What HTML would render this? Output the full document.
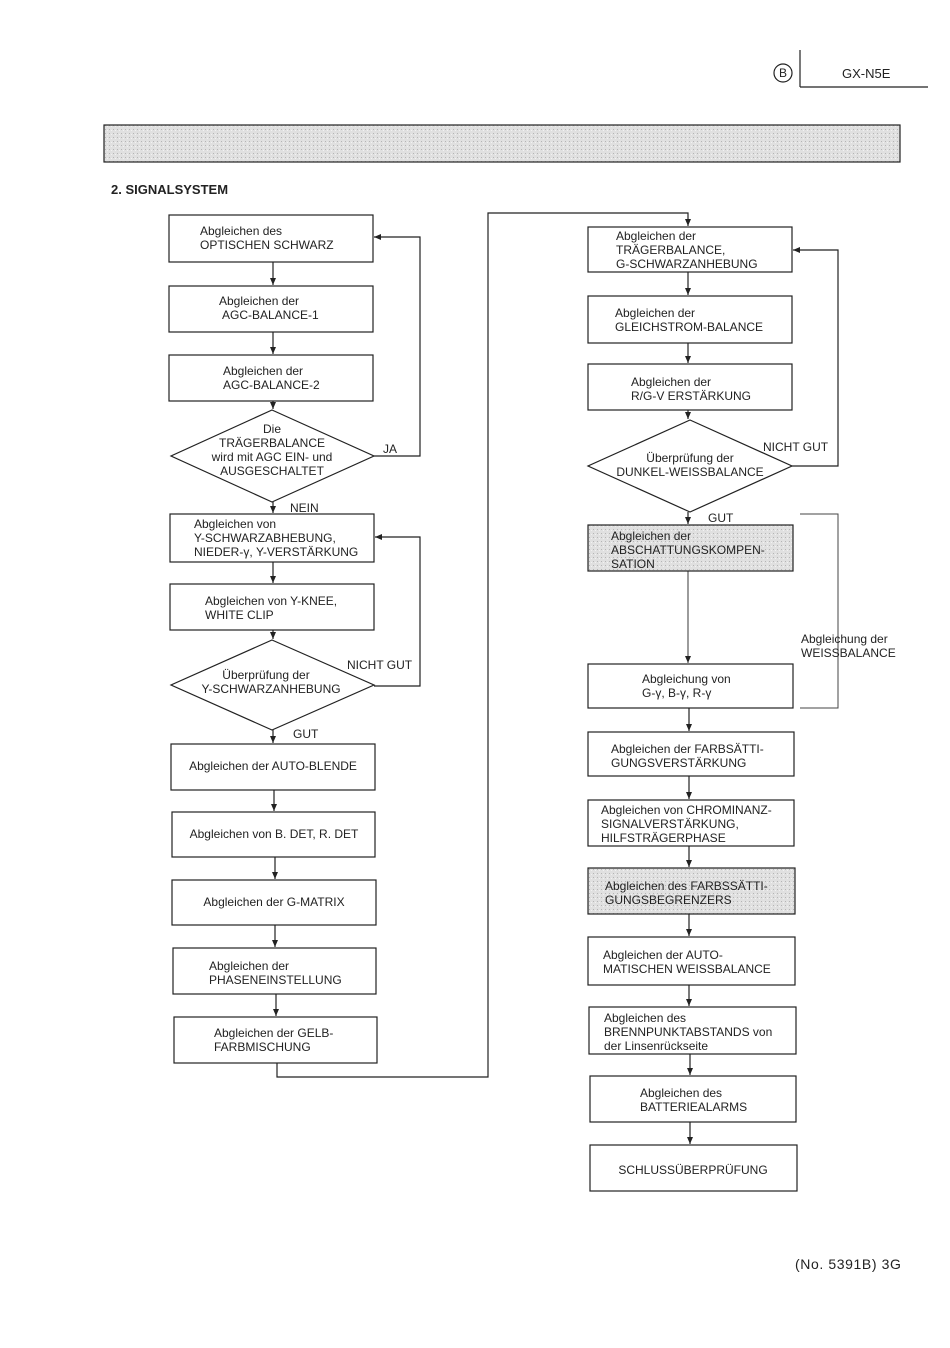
<!DOCTYPE html>
<html><head><meta charset="utf-8"><style>
body{margin:0;background:#fff}
svg text{font-family:"Liberation Sans",sans-serif;font-size:12px;fill:#222}
</style></head><body>
<svg width="950" height="1343" viewBox="0 0 950 1343" xmlns="http://www.w3.org/2000/svg">
<defs>
<pattern id="g" width="4" height="4" patternUnits="userSpaceOnUse"><rect width="4" height="4" fill="#e0e0e0"/><rect x="1" y="1" width="1" height="1" fill="#b5b5b5"/><rect x="3" y="2" width="1" height="1" fill="#f2f2f2"/></pattern>
<marker id="a" markerWidth="8" markerHeight="8" refX="7" refY="4" orient="auto" markerUnits="userSpaceOnUse"><path d="M0,1 L7,4 L0,7 Z" fill="#222"/></marker>
</defs>
<g stroke="#222" fill="none" stroke-width="1.2">
<circle cx="783" cy="73" r="9"/>
<line x1="800" y1="50" x2="800" y2="87"/><line x1="800" y1="87" x2="928" y2="87"/>
<rect x="104" y="125" width="796" height="37" fill="url(#g)"/>
<rect x="169" y="215" width="204" height="47"/>
<rect x="169" y="286" width="204" height="46"/>
<rect x="169" y="355" width="204" height="46"/>
<polygon points="272,410 374,456 272,502 171,456"/>
<rect x="170" y="514" width="204" height="48"/>
<rect x="170" y="584" width="204" height="46"/>
<polygon points="272,640 374,685 272,730 171,685"/>
<rect x="171" y="744" width="204" height="46"/>
<rect x="172" y="812" width="203" height="45"/>
<rect x="172" y="880" width="204" height="45"/>
<rect x="173" y="948" width="203" height="46"/>
<rect x="174" y="1017" width="203" height="46"/>
<line x1="273" y1="262" x2="273" y2="285" marker-end="url(#a)"/>
<line x1="273" y1="332" x2="273" y2="354" marker-end="url(#a)"/>
<line x1="273" y1="401" x2="273" y2="409" marker-end="url(#a)"/>
<line x1="273" y1="502" x2="273" y2="513" marker-end="url(#a)"/>
<line x1="273" y1="562" x2="273" y2="583" marker-end="url(#a)"/>
<line x1="273" y1="630" x2="273" y2="639" marker-end="url(#a)"/>
<line x1="273" y1="730" x2="273" y2="743" marker-end="url(#a)"/>
<line x1="274" y1="790" x2="274" y2="811" marker-end="url(#a)"/>
<line x1="275" y1="857" x2="275" y2="879" marker-end="url(#a)"/>
<line x1="275" y1="925" x2="275" y2="947" marker-end="url(#a)"/>
<line x1="276" y1="994" x2="276" y2="1016" marker-end="url(#a)"/>
<polyline points="374,456 420,456 420,237 374,237" marker-end="url(#a)"/>
<polyline points="374,686 420,686 420,537 375,537" marker-end="url(#a)"/>
<polyline points="277,1063 277,1077 488,1077 488,213 688,213 688,226" marker-end="url(#a)"/>
<rect x="588" y="227" width="204" height="45"/>
<rect x="588" y="296" width="204" height="47"/>
<rect x="588" y="364" width="204" height="46"/>
<polygon points="690,420 792,466 690,512 588,466"/>
<rect x="588" y="525" width="205" height="46" fill="url(#g)"/>
<rect x="588" y="664" width="205" height="44"/>
<rect x="588" y="732" width="206" height="44"/>
<rect x="588" y="800" width="206" height="46"/>
<rect x="588" y="868" width="207" height="46" fill="url(#g)"/>
<rect x="588" y="937" width="207" height="48"/>
<rect x="589" y="1007" width="207" height="47"/>
<rect x="590" y="1076" width="206" height="46"/>
<rect x="590" y="1145" width="207" height="46"/>
<line x1="688" y1="272" x2="688" y2="295" marker-end="url(#a)"/>
<line x1="688" y1="343" x2="688" y2="363" marker-end="url(#a)"/>
<line x1="688" y1="410" x2="688" y2="419" marker-end="url(#a)"/>
<line x1="688" y1="512" x2="688" y2="524" marker-end="url(#a)"/>
<line x1="688" y1="571" x2="688" y2="663" marker-end="url(#a)" stroke-width="0.9"/>
<line x1="689" y1="708" x2="689" y2="731" marker-end="url(#a)"/>
<line x1="689" y1="776" x2="689" y2="799" marker-end="url(#a)"/>
<line x1="689" y1="846" x2="689" y2="867" marker-end="url(#a)"/>
<line x1="689" y1="914" x2="689" y2="936" marker-end="url(#a)"/>
<line x1="689" y1="985" x2="689" y2="1006" marker-end="url(#a)"/>
<line x1="690" y1="1054" x2="690" y2="1075" marker-end="url(#a)"/>
<line x1="690" y1="1122" x2="690" y2="1144" marker-end="url(#a)"/>
<polyline points="792,466 838,466 838,250 793,250" marker-end="url(#a)"/>
<polyline points="800,514 838,514 838,708 800,708" stroke="#444" stroke-width="1"/>
</g>
<text x="842" y="78" style="font-size:13px">GX-N5E</text>
<text x="783" y="77" text-anchor="middle" font-size="11">B</text>
<text x="111" y="194" font-weight="bold" style="font-size:13px">2. SIGNALSYSTEM</text>
<text x="795" y="1269" style="font-size:14px;letter-spacing:0.6px">(No. 5391B) 3G</text>
<text x="200" y="235">Abgleichen des</text><text x="200" y="249">OPTISCHEN SCHWARZ</text>
<text x="219" y="305">Abgleichen der</text><text x="222" y="319">AGC-BALANCE-1</text>
<text x="223" y="375">Abgleichen der</text><text x="223" y="389">AGC-BALANCE-2</text>
<g text-anchor="middle"><text x="272" y="433">Die</text><text x="272" y="447">TRÄGERBALANCE</text><text x="272" y="461">wird mit AGC EIN- und</text><text x="272" y="475">AUSGESCHALTET</text></g>
<text x="383" y="453">JA</text><text x="290" y="512">NEIN</text>
<text x="194" y="528">Abgleichen von</text><text x="194" y="542">Y-SCHWARZABHEBUNG,</text><text x="194" y="556">NIEDER-γ, Y-VERSTÄRKUNG</text>
<text x="205" y="605">Abgleichen von Y-KNEE,</text><text x="205" y="619">WHITE CLIP</text>
<g text-anchor="middle"><text x="266" y="679">Überprüfung der</text><text x="271" y="693">Y-SCHWARZANHEBUNG</text></g>
<text x="347" y="669">NICHT GUT</text><text x="293" y="738">GUT</text>
<text x="273" y="770" text-anchor="middle">Abgleichen der AUTO-BLENDE</text>
<text x="274" y="838" text-anchor="middle">Abgleichen von B. DET, R. DET</text>
<text x="274" y="906" text-anchor="middle">Abgleichen der G-MATRIX</text>
<text x="209" y="970">Abgleichen der</text><text x="209" y="984">PHASENEINSTELLUNG</text>
<text x="214" y="1037">Abgleichen der GELB-</text><text x="214" y="1051">FARBMISCHUNG</text>
<text x="616" y="240">Abgleichen der</text><text x="616" y="254">TRÄGERBALANCE,</text><text x="616" y="268">G-SCHWARZANHEBUNG</text>
<text x="615" y="317">Abgleichen der</text><text x="615" y="331">GLEICHSTROM-BALANCE</text>
<text x="631" y="386">Abgleichen der</text><text x="631" y="400">R/G-V ERSTÄRKUNG</text>
<g text-anchor="middle"><text x="690" y="462">Überprüfung der</text><text x="690" y="476">DUNKEL-WEISSBALANCE</text></g>
<text x="763" y="451">NICHT GUT</text><text x="708" y="522">GUT</text>
<text x="611" y="540">Abgleichen der</text><text x="611" y="554">ABSCHATTUNGSKOMPEN-</text><text x="611" y="568">SATION</text>
<text x="801" y="643">Abgleichung der</text><text x="801" y="657">WEISSBALANCE</text>
<text x="642" y="683">Abgleichung von</text><text x="642" y="697">G-γ, B-γ, R-γ</text>
<text x="611" y="753">Abgleichen der FARBSÄTTI-</text><text x="611" y="767">GUNGSVERSTÄRKUNG</text>
<text x="601" y="814">Abgleichen von CHROMINANZ-</text><text x="601" y="828">SIGNALVERSTÄRKUNG,</text><text x="601" y="842">HILFSTRÄGERPHASE</text>
<text x="605" y="890">Abgleichen des FARBSSÄTTI-</text><text x="605" y="904">GUNGSBEGRENZERS</text>
<text x="603" y="959">Abgleichen der AUTO-</text><text x="603" y="973">MATISCHEN WEISSBALANCE</text>
<text x="604" y="1022">Abgleichen des</text><text x="604" y="1036">BRENNPUNKTABSTANDS von</text><text x="604" y="1050">der Linsenrückseite</text>
<text x="640" y="1097">Abgleichen des</text><text x="640" y="1111">BATTERIEALARMS</text>
<text x="693" y="1174" text-anchor="middle">SCHLUSSÜBERPRÜFUNG</text>
</svg>
</body></html>
